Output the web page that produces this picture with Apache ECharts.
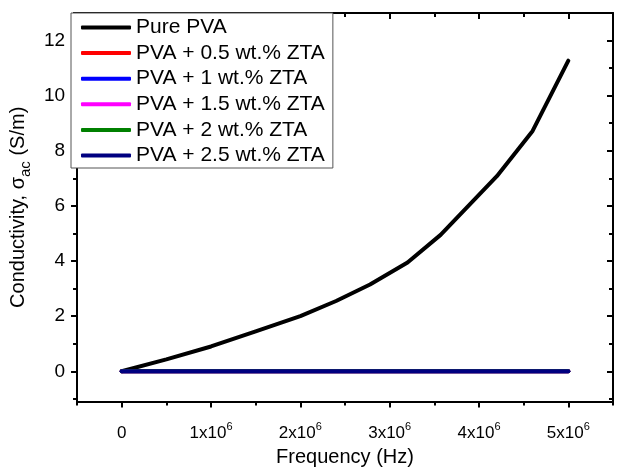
<!DOCTYPE html>
<html>
<head>
<meta charset="utf-8">
<script src="https://cdn.jsdelivr.net/npm/echarts@6/dist/echarts.min.js"></script>
<style>
  html, body { margin: 0; padding: 0; background: #fff; }
  #container { width: 618px; height: 472px; }
</style>
</head>
<body>
<div id="container"></div>
<script>
var dom = document.getElementById("container");
var myChart = echarts.init(dom);
var option;

// frequency points (Hz)
var freqs = [0, 0.5e6, 1e6, 1.5e6, 2e6, 2.4e6, 2.78e6, 3.2e6, 3.57e6, 4.2e6, 4.6e6, 5e6];

// conductivity (S/m)
var purePVA = [0, 0.43, 0.9, 1.45, 2.0, 2.55, 3.15, 3.95, 4.95, 7.08, 8.72, 11.27];
var zta05 = [0, 0, 0, 0, 0, 0, 0, 0, 0, 0, 0, 0];
var zta1 = [0, 0, 0, 0, 0, 0, 0, 0, 0, 0, 0, 0];
var zta15 = [0, 0, 0, 0, 0, 0, 0, 0, 0, 0, 0, 0];
var zta2 = [0, 0, 0, 0, 0, 0, 0, 0, 0, 0, 0, 0];
var zta25 = [0, 0, 0, 0, 0, 0, 0, 0, 0, 0, 0, 0];

var seriesNames = ["Pure PVA", "PVA + 0.5 wt.% ZTA", "PVA + 1 wt.% ZTA", "PVA + 1.5 wt.% ZTA", "PVA + 2 wt.% ZTA", "PVA + 2.5 wt.% ZTA"];
var seriesColors = ["#000000", "#ff0000", "#0000ff", "#ff00ff", "#008000", "#000080"];
var seriesValues = [purePVA, zta05, zta1, zta15, zta2, zta25];

// axis ticks
var xMajor = [0, 1e6, 2e6, 3e6, 4e6, 5e6];
var xMinor = [-0.5e6, 0.5e6, 1.5e6, 2.5e6, 3.5e6, 4.5e6, 5.5e6];
var yMajor = [0, 2, 4, 6, 8, 10, 12];
var yMinor = [-1, 1, 3, 5, 7, 9, 11, 13];

var FONT = "'Liberation Sans', Arial, sans-serif";

function pairs(vals) {
  var out = [];
  for (var i = 0; i < freqs.length; i++) {
    out.push([freqs[i], vals[i]]);
  }
  return out;
}

function xLabel(v) {
  if (v == 0) return "{a|0}";
  return "{a|" + Math.round(v / 1e6) + "x10}{s|6}";
}

var lineStyleAxis = { color: "#000", width: 2 };

function makeX(pos, ticks, len, inside, isMain, showLine) {
  return {
    type: "value",
    position: pos,
    min: -0.5e6,
    max: 5.5e6,
    name: isMain ? "Frequency (Hz)" : "",
    nameLocation: "middle",
    nameGap: 42,
    nameTextStyle: { fontFamily: FONT, fontSize: 20, color: "#000" },
    axisLine: { show: showLine, onZero: false, lineStyle: lineStyleAxis },
    axisTick: { show: true, inside: inside, length: len, customValues: ticks, lineStyle: { color: "#000", width: 2 } },
    axisLabel: isMain ? {
      show: true,
      customValues: xMajor,
      margin: 20,
      formatter: xLabel,
      rich: {
        a: { fontFamily: FONT, fontSize: 17, color: "#000", lineHeight: 24, verticalAlign: "middle" },
        s: { fontFamily: FONT, fontSize: 11, color: "#000", lineHeight: 11, verticalAlign: "top" }
      }
    } : { show: false },
    splitLine: { show: false }
  };
}

function makeY(pos, ticks, len, inside, isMain, showLine) {
  return {
    type: "value",
    position: pos,
    min: -1.1,
    max: 13,
    name: isMain ? "{n|Conductivity, σ}{s|ac}{n| (S/m)}" : "",
    nameLocation: "middle",
    nameGap: 40,
    nameTextStyle: {
      rich: {
        n: { fontFamily: FONT, fontSize: 20, color: "#000", lineHeight: 30, verticalAlign: "middle" },
        s: { fontFamily: FONT, fontSize: 15, color: "#000", lineHeight: 15, verticalAlign: "bottom" }
      }
    },
    axisLine: { show: showLine, onZero: false, lineStyle: lineStyleAxis },
    axisTick: { show: true, inside: inside, length: len, customValues: ticks, lineStyle: { color: "#000", width: 2 } },
    axisLabel: isMain ? {
      show: true,
      customValues: yMajor,
      margin: 12,
      fontFamily: FONT,
      fontSize: 19,
      color: "#000"
    } : { show: false },
    splitLine: { show: false }
  };
}

var series = [];
for (var k = 0; k < seriesNames.length; k++) {
  series.push({
    name: seriesNames[k],
    type: "line",
    xAxisIndex: 0,
    yAxisIndex: 0,
    data: pairs(seriesValues[k]),
    showSymbol: false,
    symbol: "none",
    smooth: false,
    lineStyle: { color: seriesColors[k], width: 4, cap: "round", join: "round" },
    itemStyle: { color: seriesColors[k] },
    z: 2 + k,
    animation: false
  });
}

option = {
  animation: false,
  backgroundColor: "#fff",
  grid: { left: 71, right: 5, top: 13, bottom: 66, containLabel: false },
  legend: {
    orient: "vertical",
    left: 71,
    top: 13,
    padding: [4, 8, 2, 10],
    itemGap: 4.6,
    itemWidth: 50,
    itemHeight: 4,
    icon: "roundRect",
    borderColor: "#555",
    borderWidth: 1,
    backgroundColor: "#fff",
    textStyle: { fontFamily: FONT, fontSize: 21, color: "#000", padding: [0, 0, 0, 0] },
    data: seriesNames
  },
  xAxis: [
    makeX("bottom", xMajor, 6, false, true, true),
    makeX("bottom", xMinor, 4, false, false, false),
    makeX("top", xMajor, 6, true, false, true),
    makeX("top", xMinor, 4, true, false, false)
  ],
  yAxis: [
    makeY("left", yMajor, 6, false, true, true),
    makeY("left", yMinor, 4, false, false, false),
    makeY("right", yMajor, 6, true, false, true),
    makeY("right", yMinor, 4, true, false, false)
  ],
  series: series
};

myChart.setOption(option, true);
</script>
</body>
</html>
